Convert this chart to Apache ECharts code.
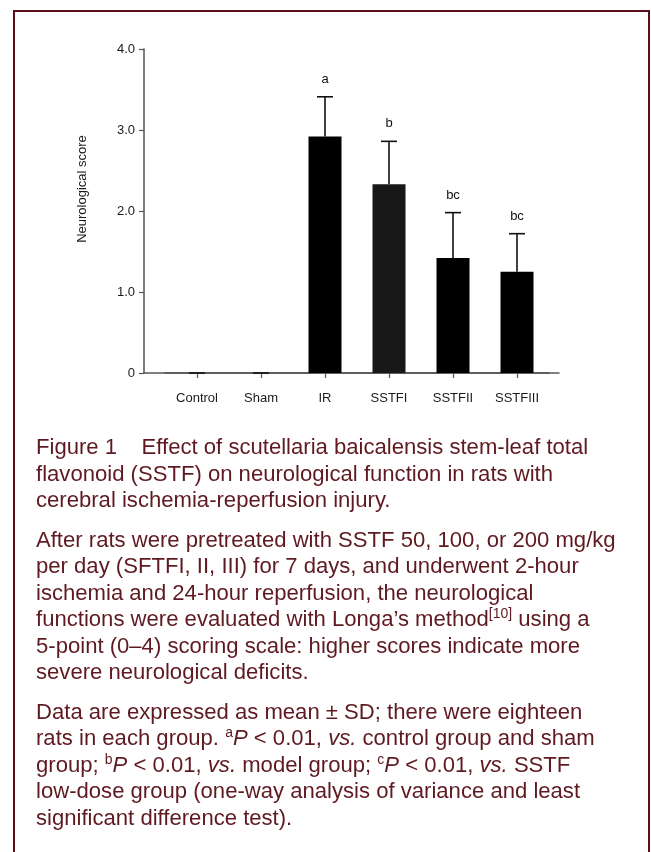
<!DOCTYPE html>
<html>
<head>
<meta charset="utf-8">
<script src="https://cdn.jsdelivr.net/npm/echarts@6/dist/echarts.min.js"></script>
<style>
  html, body { margin: 0; padding: 0; background: #fff; }
  #wrap { position: relative; width: 651px; height: 852px; overflow: hidden; }
  #chart { position: absolute; left: 0; top: 0; width: 651px; height: 852px; }
  #frame { position: absolute; left: 13px; top: 10px; width: 637px; height: 900px;
           border: 2px solid #5a0f18; box-sizing: border-box; pointer-events: none; }
  #caption { position: absolute; left: 36px; top: 434px; color: #5e1a20;
             font-family: "Liberation Sans", Arial, sans-serif; font-size: 22.1px;
             line-height: 26.5px; white-space: nowrap; }
  #caption p { margin: 0 0 13px 0; }
  #caption sup { font-size: 14px; line-height: 0; vertical-align: 0; position: relative; top: -8px; }
  #caption i { font-style: italic; }
</style>
</head>
<body>
<div id="wrap">
  <div id="chart"></div>
  <div id="frame"></div>
  <div id="caption">
    <p>Figure 1&nbsp;&nbsp;&nbsp;&nbsp;Effect of scutellaria baicalensis stem-leaf total<br>flavonoid (SSTF) on neurological function in rats with<br>cerebral ischemia-reperfusion injury.</p>
    <p>After rats were pretreated with SSTF 50, 100, or 200 mg/kg<br>per day (SFTFI, II, III) for 7 days, and underwent 2-hour<br>ischemia and 24-hour reperfusion, the neurological<br>functions were evaluated with Longa’s method<sup>[10]</sup> using a<br>5-point (0–4) scoring scale: higher scores indicate more<br>severe neurological deficits.</p>
    <p>Data are expressed as mean ± SD; there were eighteen<br>rats in each group. <sup>a</sup><i>P</i> &lt; 0.01, <i>vs.</i> control group and sham<br>group; <sup>b</sup><i>P</i> &lt; 0.01, <i>vs.</i> model group; <sup>c</sup><i>P</i> &lt; 0.01, <i>vs.</i> SSTF<br>low-dose group (one-way analysis of variance and least<br>significant difference test).</p>
  </div>
</div>
<script>
const categories = ['Control', 'Sham', 'IR', 'SSTFI', 'SSTFII', 'SSTFIII'];
const means = [0, 0, 2.92, 2.33, 1.42, 1.25];
const sds = [0, 0, 0.49, 0.53, 0.56, 0.47];
const sigLabels = ['', '', 'a', 'b', 'bc', 'bc'];
const yTickLabels = ['0', '1.0', '2.0', '3.0', '4.0'];
const yAxisTitle = 'Neurological score';

const chart = echarts.init(document.getElementById('chart'), null, { renderer: 'canvas' });
const FONT = 'Liberation Sans, Arial, sans-serif';
const errData = categories.map((c, i) => [i, means[i], sds[i], sigLabels[i]]);

chart.setOption({
  animation: false,
  backgroundColor: 'transparent',
  grid: [
    { left: 144, top: 49, width: 415, height: 324, containLabel: false },
    { left: 165, top: 49, width: 384, height: 324, containLabel: false }
  ],
  xAxis: [
    { gridIndex: 0, type: 'value', min: 0, max: 1,
      axisLine: { show: true, lineStyle: { color: '#555', width: 1.5 } },
      axisTick: { show: false }, axisLabel: { show: false }, splitLine: { show: false } },
    { gridIndex: 1, type: 'category', data: categories, boundaryGap: true,
      axisLine: { show: true, lineStyle: { color: '#555', width: 1.5 } },
      axisTick: { show: true, alignWithLabel: true, inside: false, length: 5, lineStyle: { color: '#555', width: 1.2 } },
      axisLabel: { show: true, margin: 19, color: '#1a1a1a', fontSize: 13, fontFamily: FONT },
      splitLine: { show: false } }
  ],
  yAxis: [
    { gridIndex: 0, type: 'value', min: 0, max: 4, interval: 1,
      axisLine: { show: true, lineStyle: { color: '#555', width: 1.5 } },
      axisTick: { show: true, inside: false, length: 5, lineStyle: { color: '#555', width: 1.2 } },
      axisLabel: { show: true, margin: 9, color: '#1a1a1a', fontSize: 13, fontFamily: FONT,
                   formatter: (v, idx) => yTickLabels[idx] },
      splitLine: { show: false } },
    { gridIndex: 1, type: 'value', min: 0, max: 4, interval: 1, show: false }
  ],
  graphic: [
    { type: 'text', x: 82, y: 189, rotation: Math.PI / 2,
      style: { text: yAxisTitle, fontSize: 13, fontFamily: FONT, fill: '#1a1a1a',
               textAlign: 'center', textVerticalAlign: 'middle' } }
  ],
  series: [
    { type: 'bar', xAxisIndex: 1, yAxisIndex: 1, data: means, barWidth: 33,
      itemStyle: { color: p => (p.dataIndex === 3 ? '#181818' : '#000000') } },
    { type: 'custom', xAxisIndex: 1, yAxisIndex: 1, data: errData, z: 5,
      renderItem: function (params, api) {
        const i = api.value(0), m = api.value(1), s = api.value(2);
        const lab = sigLabels[params.dataIndex];
        const base = api.coord([i, m]);
        const top = api.coord([i, m + s]);
        const hw = 8;
        const st = { stroke: '#111', lineWidth: 1.6 };
        const children = [
          { type: 'line', shape: { x1: top[0], y1: base[1], x2: top[0], y2: top[1] }, style: st },
          { type: 'line', shape: { x1: top[0] - hw, y1: top[1], x2: top[0] + hw, y2: top[1] }, style: st }
        ];
        if (lab) {
          children.push({ type: 'text', style: { text: lab, x: top[0], y: top[1] - 17.5,
            textAlign: 'center', textVerticalAlign: 'middle', fontSize: 13, fontFamily: FONT, fill: '#111' } });
        }
        return { type: 'group', children };
      } }
  ]
});
</script>
</body>
</html>
